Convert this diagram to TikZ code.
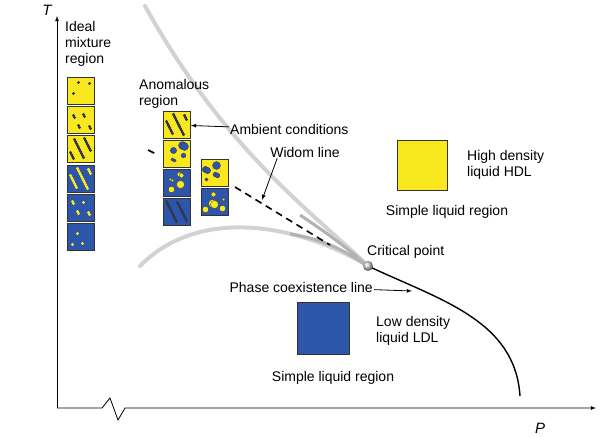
\documentclass[tikz,border=0pt]{standalone}
\usepackage{fontspec}
\setmainfont{Liberation Sans}
\usetikzlibrary{positioning}
\definecolor{hdl}{RGB}{250,232,30}
\definecolor{ldl}{RGB}{45,85,170}
\definecolor{grain}{RGB}{50,55,80}
\tikzset{
  lbl/.style={font=\fontsize{14}{16}\selectfont, inner sep=1pt},
  cell/.style={draw=black!80, line width=0.8pt, minimum size=27pt, inner sep=0pt},
  pointer/.style={-latex, line width=0.8pt}
}
% small square of liquid with n dots
\newcommand{\microcell}[7]{%
  \node[cell, fill=#4] (#1) at (#2,#3) {};
  \foreach \k in {1,...,#6}{
    \pgfmathsetmacro{\dx}{mod(\k*37+#7*5,21)-10.5}
    \pgfmathsetmacro{\dy}{mod(\k*53+#7*3,21)-10.5}
    \fill[#5] (#2+\dx,#3+\dy) circle (1.6pt);
  }}
\newcommand{\blobcell}[6]{%
  \node[cell, fill=#4] (#1) at (#2,#3) {};
  \foreach \k in {1,...,6}{
    \pgfmathsetmacro{\dx}{mod(\k*29+#6*7,19)-9.5}
    \pgfmathsetmacro{\dy}{mod(\k*43+#6*5,19)-9.5}
    \pgfmathsetmacro{\rr}{mod(\k*7+#6,4)*0.8+1.6}
    \fill[#5, draw=grain, line width=0.3pt] (#2+\dx,#3+\dy) circle (\rr pt);
  }}
\begin{document}
\begin{tikzpicture}[x=1pt,y=-1pt]
\useasboundingbox (0,0) rectangle (600,437);

% axes
\draw[line width=0.8pt, -latex] (57,408) -- (57,16);
\draw[line width=0.8pt, -latex] (57,408) -- (102,408) -- (110,398) -- (118,420) -- (125,408) -- (596,408);
\node[lbl, font=\fontsize{15}{16}\selectfont\itshape] (T) at (47,10) {T};
\node[lbl, font=\fontsize{15}{16}\selectfont\itshape] (P) at (540,428) {P};

% boundaries
\coordinate (cp) at (368,266);
\draw[gray!35, line width=4pt, line cap=round] (145,6) .. controls (225,150) and (310,210) .. (cp);
\draw[gray!60, line width=3pt] (300,215) .. controls (330,235) and (352,252) .. (cp);
\draw[gray!35, line width=4pt, line cap=round] (140,266) .. controls (200,205) and (300,225) .. (cp);
\draw[gray!60, line width=3pt] (290,234) .. controls (330,240) and (350,255) .. (cp);
\draw[line width=1.4pt] (cp) .. controls (440,300) and (515,320) .. (520,396);
\draw[line width=1.6pt, dash pattern=on 7pt off 5pt] (148,150) -- (158,155);
\draw[line width=1.6pt, dash pattern=on 7pt off 5pt] (235,187) -- (330,245);
\shade[ball color=gray!40] (cp) circle (5pt);

% microstates
\microcell{i1}{81}{91}{hdl}{grain}{3}{11}
\microcell{i2}{81}{120}{hdl}{grain}{8}{12}
\microcell{i3}{81}{149}{hdl}{grain}{24}{13}
\microcell{i4}{81}{179}{ldl}{hdl}{24}{14}
\microcell{i5}{81}{208}{ldl}{hdl}{7}{15}
\microcell{i6}{81}{237}{ldl}{hdl}{3}{16}
\microcell{a1}{177}{125}{hdl}{grain}{30}{17}
\blobcell{a2}{177}{154}{hdl}{ldl}{21}
\blobcell{a3}{177}{183}{ldl}{hdl}{22}
\microcell{a4}{177}{212}{ldl}{grain}{30}{18}
\blobcell{b1}{215}{173}{hdl}{ldl}{23}
\blobcell{b2}{215}{202}{ldl}{hdl}{24}
\node[cell, minimum size=50pt, fill=hdl] (hdlbox) at (422,165) {};
\node[cell, minimum size=52pt, fill=ldl] (ldlbox) at (323,328) {};

% labels
\node[lbl, align=left, anchor=north west] (ideal) at (64,20) {Ideal\\mixture\\region};
\node[lbl, align=left, anchor=south west] (anom) at (138,110) {Anomalous\\region};
\node[lbl, anchor=west] (amb) at (229,129) {Ambient conditions};
\node[lbl] (widom) at (305,152) {Widom line};
\node[lbl, align=left, anchor=west] (hdltext) at (466,165) {High density\\liquid HDL};
\node[lbl] (simple1) at (447,212) {Simple liquid region};
\node[lbl, anchor=west] (crit) at (366,252) {Critical point};
\node[lbl, anchor=east] (phase) at (374,287) {Phase coexistence line};
\node[lbl, align=left, anchor=west] (ldltext) at (375,331) {Low density\\liquid LDL};
\node[lbl] (simple2) at (333,378) {Simple liquid region};
\coordinate (widomtip) at (262,200);
\coordinate (phasetip) at (412,291);

\draw[pointer] (amb) -- (a1);
\draw[pointer] (widom.south west) ++(8,0) -- (widomtip);
\draw[pointer] (phase) -- (phasetip);
\end{tikzpicture}
\end{document}
